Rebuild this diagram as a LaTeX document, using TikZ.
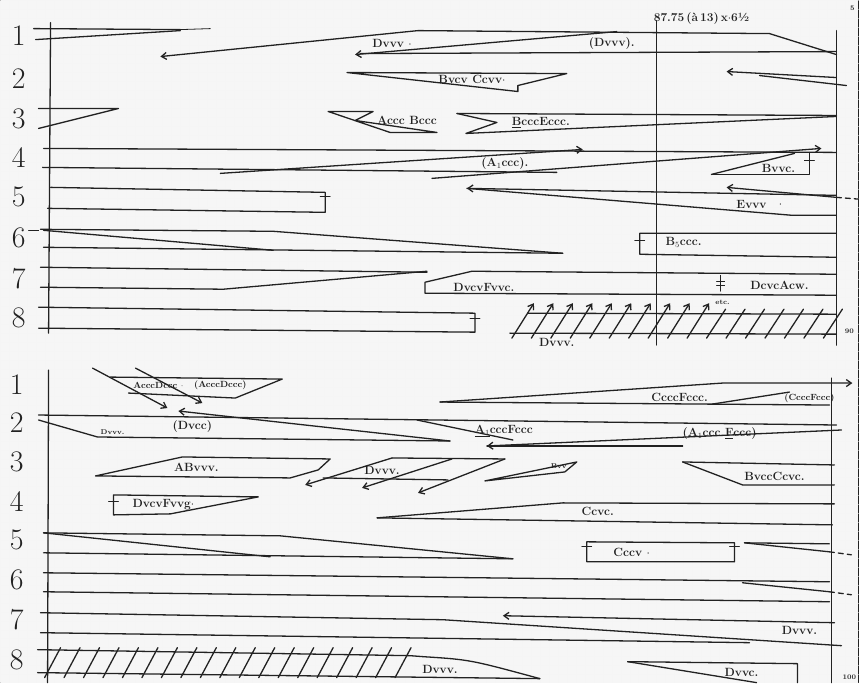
\documentclass[tikz,border=0pt]{standalone}
\usetikzlibrary{arrows.meta}
\definecolor{ink}{HTML}{222222}
\definecolor{paper}{HTML}{F6F6F6}
\begin{document}
\begin{tikzpicture}[x=1bp,y=-1bp,
  every path/.style={line width=1.3bp, draw=ink, line join=round, line cap=round},
  arr/.style={-{Straight Barb[length=5bp,width=7bp]}},
  thinl/.style={line width=0.8bp},
  dsh/.style={dash pattern=on 5bp off 4bp},
  num/.style={font=\fontsize{30}{30}\selectfont, text=ink, inner sep=0},
  lab/.style={font=\bfseries\fontsize{12}{12}\selectfont, text=ink, inner sep=0},
  small/.style={font=\bfseries\fontsize{9}{9}\selectfont, text=ink, inner sep=0},
  tiny/.style={font=\bfseries\fontsize{7}{7}\selectfont, text=ink, inner sep=0}]
\useasboundingbox (0,0) rectangle (859,683);
\fill[paper, draw=none] (0,0) rectangle (859,683);
\foreach \gx in {0,9,...,859} {\draw[draw=black!4, line width=0.4bp] (\gx,0) -- (\gx,683);}
\foreach \gy in {0,9,...,683} {\draw[draw=black!4, line width=0.4bp] (0,\gy) -- (859,\gy);}

% ================= TOP SYSTEM =================
\draw (50,22) -- (48,333);
\draw (837,30) -- (837,345);
\draw[thinl] (657,20) -- (657,345);
\node[lab] (tempo) at (702,18) {87.75\,(\`a\,13)\,x$\cdot$6\textonehalf};
\node[tiny] (page) at (853,8) {5};
\foreach \n/\y in {1/35,2/78,3/118,4/157,5/197,6/238,7/278,8/318}
  \node[num] (t\n) at (18,\y) {\n};

% voice 1
\draw (33,28) -- (180,29);
\draw[thinl] (180,29) -- (210,28);
\draw (35,39) -- (180,30);
\draw[arr] (837,54) -- (770,33) -- (418,30) -- (160,56);
\draw[arr] (617,31) -- (355,54);
\draw (360,53) -- (837,51);
\node[lab] (t1a) at (392,43) {Dvvv $\cdot$};
\node[lab] (t1b) at (612,43) {(Dvvv).};

% voice 2
\draw (347,72) -- (567,73) -- (518,85) -- (518,91) -- cycle;
\node[lab] (t2a) at (472,79) {Bvcv Ccvv$\cdot$};
\draw[arr] (837,77) -- (727,71);
\draw (760,75) -- (847,85);

% voice 3
\draw (38,108) -- (118,108) -- (38,128);
\draw (328,111) -- (373,111) -- (355,120) -- (437,132) -- (390,132) -- cycle;
\node[lab] (t3a) at (407,120) {Accc Bccc};
\draw (457,113) -- (837,115);
\draw (457,113) -- (497,122) -- (466,133) -- (837,116);
\node[lab] (t3b) at (541,122) {\underline{B}cccEccc.};

% voice 4
\draw (43,148) -- (837,152);
\draw (42,167) -- (557,172);
\draw[arr] (220,173) -- (583,149);
\draw[arr] (432,178) -- (822,148);
\node[lab] (t4a) at (505,163) {(A$_1$ccc).};
\draw (712,174) -- (810,174) -- (810,152);
\draw (712,174) -- (795,153);
\draw[thinl] (805,160) -- (815,160);
\node[lab] (t4b) at (779,168) {Bvvc.};

% voice 5
\draw (50,187) -- (325,192) -- (325,212) -- (47,208);
\draw[thinl] (320,196) -- (330,196);
\draw[arr] (837,195) -- (467,188);
\draw (467,188) -- (793,215) -- (837,215);
\draw[arr] (837,197) -- (727,187);
\draw[dsh] (837,197) -- (862,199);
\node[lab] (t5a) at (752,204) {Evvv};
\node[lab] (t5b) at (781,205) {$\cdot$};

% voice 6
\draw[thinl] (28,230) -- (38,230);
\draw (40,229) -- (273,231) -- (563,253);
\draw (43,230) -- (273,250);
\draw (43,247) -- (563,253);
\draw (837,233) -- (640,233) -- (640,254) -- (837,257);
\draw[thinl] (635,240) -- (645,240);
\node[lab] (t6a) at (684,242) {B$_5$ccc.};

% voice 7
\draw (40,267) -- (427,272);
\draw (40,287) -- (223,289) -- (427,271);
\draw (837,274) -- (472,271) -- (425,282) -- (425,293) -- (837,295);
\node[lab] (t7a) at (484,287) {DvcvFvvc.};
\draw[thinl] (721,275) -- (721,291);
\draw[thinl] (717,281) -- (725,281);
\draw[thinl] (717,285) -- (725,285);
\node[lab] (t7b) at (780,285) {DcvcAcw.};

% voice 8
\draw (38,307) -- (475,313) -- (475,332) -- (38,328);
\draw[thinl] (470,318) -- (480,318);
\draw (528,313) -- (837,314);
\draw (510,333) -- (837,334);
\foreach \i in {0,...,9}
  \draw[arr] ({512+19.5*\i},338) -- ({534+19.5*\i},303);
\foreach \i in {10,...,16}
  \draw ({512+19.5*\i},338) -- ({531+19.5*\i},309);
\node[tiny] (t8a) at (723,302) {etc.};
\node[lab] (t8b) at (557,342) {Dvvv.};
\node[tiny] (t8c) at (850,331) {90};

% ================= BOTTOM SYSTEM =================
\draw (48,370) -- (47,683);
\draw (832,378) -- (832,683);
\foreach \n/\y in {1/385,2/423,3/462,4/502,5/540,6/580,7/620,8/660}
  \node[num] (b\n) at (16,\y) {\n};

% voice 1
\draw (110,377) -- (282,379) -- (235,398) -- (128,393);
\draw[arr] (92,368) -- (167,408);
\draw[arr] (135,368) -- (202,403);
\node[small] (b1a) at (158,385) {AcccDccc $\cdot$};
\node[small] (b1b) at (220,385) {(AcccDccc)};
\draw[arr] (440,402) -- (723,383) -- (853,383);
\draw (440,402) -- (830,405);
\draw (713,404) -- (790,392);
\node[lab] (b1c) at (680,397) {CcccFccc.};
\node[small] (b1d) at (810,398) {(CcccFccc)};

% voice 2
\draw (38,415) -- (837,425);
\draw[arr] (450,441) -- (178,411);
\draw (38,420) -- (97,437) -- (450,441);
\node[lab] (b2a) at (192,427) {(Dvcc)};
\node[tiny] (b2b) at (112,432) {Dvvv.};
\draw (417,420) -- (513,440);
\draw[arr] (842,430) -- (487,446);
\draw (487,446) -- (683,446);
\node[lab] (b2c) at (504,431) {\underline{A$_1$}cccFccc};
\node[lab] (b2d) at (720,434) {(A$_1$ccc \underline{F}ccc)};

% voice 3
\draw (95,476) -- (182,457) -- (330,459) -- (318,470) -- (290,478) -- cycle;
\node[lab] (b3a) at (196,467) {ABvvv.};
\draw (392,458) -- (505,459);
\draw[arr] (392,458) -- (305,485);
\draw[arr] (452,459) -- (362,488);
\draw[arr] (505,459) -- (418,493);
\draw (323,478) -- (448,480);
\node[lab] (b3b) at (382,470) {Dvvv.};
\draw (485,481) -- (577,462) -- (565,472) -- cycle;
\node[tiny] (b3c) at (559,466) {Bvv};
\draw (683,462) -- (835,465);
\draw (683,462) -- (743,485) -- (835,485);
\node[lab] (b3d) at (775,476) {BvccCcvc.};

% voice 4
\draw (113,495) -- (258,497) -- (170,514) -- (113,515) -- cycle;
\draw[thinl] (108,502) -- (118,502);
\node[lab] (b4a) at (163,505) {DvcvFvvg$\cdot$};
\draw (377,518) -- (563,503) -- (835,504);
\draw (377,518) -- (833,525);
\node[lab] (b4b) at (598,512) {Ccvc.};

% voice 5
\draw (43,533) -- (280,536) -- (513,559);
\draw (43,533) -- (270,557);
\draw (43,553) -- (513,559);
\draw (587,542) -- (735,543) -- (735,562) -- (587,562) -- cycle;
\draw[thinl] (582,547) -- (592,547);
\draw[thinl] (730,547) -- (740,547);
\node[lab] (b5a) at (632,553) {Cccv $\cdot$};
\draw (745,543) -- (830,544);
\draw (745,543) -- (830,552);
\draw[dsh] (830,552) -- (852,555);

% voice 6
\draw (43,573) -- (830,582);
\draw (43,592) -- (830,602);
\draw (743,583) -- (830,592);
\draw[dsh] (830,592) -- (852,595);

% voice 7
\draw (40,613) -- (443,620) -- (842,646);
\draw[arr] (835,623) -- (503,616);
\draw (40,633) -- (750,643);
\node[lab] (b7a) at (800,631) {Dvvv.};

% voice 8
\draw (37,650) -- (410,656) -- (423,657) .. controls (470,660) .. (540,679);
\draw (37,673) -- (540,679);
\foreach \i in {0,...,18}
  \draw ({44+19.5*\i},678) -- ({60+19.5*\i},648);
\node[lab] (b8a) at (440,670) {Dvvv.};
\draw (628,662) -- (798,664) -- (798,683);
\draw (628,662) -- (757,683);
\node[lab] (b8b) at (742,673) {Dvvc.};
\node[tiny] (b8c) at (850,678) {100};
\end{tikzpicture}
\end{document}
